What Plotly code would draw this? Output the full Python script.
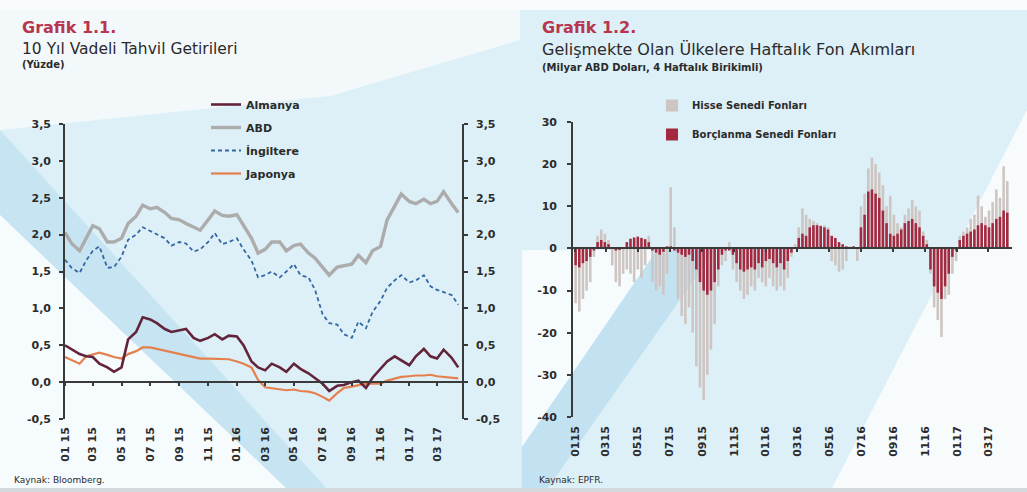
import plotly.graph_objects as go
import pandas as pd

W, H = 1027, 492

# ---------------- Grafik 1.1 data (semi-monthly, %) ----------------
bond_dates = pd.date_range("2015-01-01", periods=56, freq="SMS")
almanya = [0.50, 0.45, 0.38, 0.35, 0.34, 0.25, 0.20, 0.14, 0.20, 0.58,
           0.68, 0.88, 0.85, 0.80, 0.72, 0.68, 0.70, 0.72, 0.60, 0.56,
           0.60, 0.65, 0.58, 0.63, 0.62, 0.50, 0.28, 0.20, 0.16, 0.25,
           0.20, 0.14, 0.25, 0.18, 0.12, 0.05, -0.02, -0.12, -0.05, -0.04,
           0.00, 0.02, -0.08, 0.06, 0.18, 0.28, 0.35, 0.30, 0.23, 0.35,
           0.45, 0.35, 0.32, 0.44, 0.33, 0.20]
abd = [2.03, 1.88, 1.78, 1.95, 2.12, 2.08, 1.90, 1.90, 1.95, 2.15,
       2.25, 2.40, 2.35, 2.37, 2.30, 2.22, 2.20, 2.15, 2.10, 2.06,
       2.20, 2.32, 2.26, 2.25, 2.27, 2.12, 1.95, 1.75, 1.80, 1.90,
       1.90, 1.78, 1.85, 1.87, 1.75, 1.68, 1.55, 1.45, 1.56, 1.58,
       1.60, 1.72, 1.62, 1.78, 1.84, 2.20, 2.40, 2.55, 2.45, 2.42,
       2.48, 2.42, 2.45, 2.58, 2.42, 2.30]
ingiltere = [1.66, 1.55, 1.48, 1.65, 1.78, 1.84, 1.55, 1.56, 1.70, 1.93,
             2.00, 2.10, 2.05, 2.00, 1.95, 1.85, 1.90, 1.88, 1.77, 1.80,
             1.90, 2.02, 1.87, 1.90, 1.95, 1.80, 1.65, 1.42, 1.45, 1.50,
             1.42, 1.50, 1.60, 1.45, 1.42, 1.25, 0.92, 0.80, 0.78, 0.65,
             0.60, 0.82, 0.73, 0.95, 1.10, 1.28, 1.38, 1.45, 1.35, 1.38,
             1.45, 1.30, 1.25, 1.22, 1.18, 1.05]
japonya = [0.34, 0.30, 0.25, 0.35, 0.37, 0.40, 0.37, 0.34, 0.32, 0.38,
           0.42, 0.47, 0.47, 0.45, 0.43, 0.41, 0.38, 0.36, 0.34, 0.32,
           0.32, 0.32, 0.32, 0.31, 0.28, 0.25, 0.20, 0.03, -0.07, -0.08,
           -0.10, -0.11, -0.10, -0.12, -0.13, -0.15, -0.20, -0.25, -0.15, -0.08,
           -0.06, -0.04, -0.02, -0.02, -0.02, 0.02, 0.05, 0.07, 0.08, 0.09,
           0.09, 0.10, 0.08, 0.07, 0.06, 0.05]

# ---------------- Grafik 1.2 data (weekly, bn USD, 4-week cumulative) ----------------
flow_dates = pd.date_range("2015-01-02", periods=119, freq="7D")
hisse = [-13, -15, -12, -10, -8, -2, 3, 4.5, 3.5, 2,
         -4, -8, -9, -6, -5, -6, -8, -5, -7, -4,
         3, -8, -10, -9, -11, -6, 14.5, 5, -12, -16,
         -18, -14, -20, -28, -33, -36, -30, -24, -18, -9,
         -4, -3, 1.5, -5, -8, -10, -12, -11, -9, -10,
         -7, -8, -9, -7, -9, -10, -9, -10, -7, -2,
         1, 5, 9.5, 8, 7, 6.5, 6, 5.5, 5.5, 5,
         -3, -4, -5.5, -5, -3, 0.5, 0.5, -3, 10, 13,
         19, 21.5, 20, 18, 15, 10, 12.5, 8, 6, 5,
         8, 9.5, 11.5, 10, 9, 4, 2, -6, -14, -17,
         -21, -12, -11, -6, -3, 3, 4, 5, 7, 8,
         12.5, 10, 7.5, 9, 11, 14, 12, 19.5, 16]
borc = [-4, -4.5, -3.5, -3, -2, -0.5, 1.5, 2, 1.5, 1,
        0.3, -0.5, -0.3, 0.3, 1.5, 2.3, 2.6, 2.8, 2.5, 2.2,
        1.5, -0.5, -1, -1.5, -0.8, 0.5, 0.5, -0.5, -1, -1.5,
        -2, -1.5, -3, -5, -8, -10, -11, -10, -8, -5,
        -1.5, -0.5, -0.5, -1.5, -3.5, -5, -5.5, -5, -4.5, -5,
        -3.5, -4.5, -3, -2.5, -3.5, -4.5, -3.5, -5, -3, -1,
        0.3, 2.5, 3.5, 3, 5, 5.5, 5.5, 5.3, 5, 4.5,
        3, 2.5, 1.5, 1, 0.5, 0.3, 0.5, 0.3, 5, 8,
        13.5, 14, 13, 12, 9, 6, 3.5, 3, 3.5, 4.5,
        6, 6.5, 7, 6, 5, 3, 1, -5, -9, -10.5,
        -12, -9, -6, -2, -0.5, 2, 3, 3.5, 4, 4.5,
        5.5, 6, 5.5, 5, 6, 7, 7.5, 9, 8.5]

# ---------------- ticks ----------------
tick_dates = pd.date_range("2015-01-01", periods=14, freq="2MS")
left_xlabels = ["01 15", "03 15", "05 15", "07 15", "09 15", "11 15", "01 16",
                "03 16", "05 16", "07 16", "09 16", "11 16", "01 17", "03 17"]
right_xlabels = ["0115", "0315", "0515", "0715", "0915", "1115", "0116",
                 "0316", "0516", "0716", "0916", "1116", "0117", "0317"]
left_yticks = [-0.5, 0.0, 0.5, 1.0, 1.5, 2.0, 2.5, 3.0, 3.5]
left_ylabels = ["-0,5", "0,0", "0,5", "1,0", "1,5", "2,0", "2,5", "3,0", "3,5"]
right_yticks = [-40, -30, -20, -10, 0, 10, 20, 30]
right_ylabels = ["-40", "-30", "-20", "-10", "0", "10", "20", "30"]

# ---------------- helpers ----------------
def px(x):
    return x / W

def py(y):
    return 1 - y / H

def poly(points):
    return "M " + " L ".join(f"{px(x):.4f},{py(y):.4f}" for x, y in points) + " Z"

FONT = "DejaVu Sans"
AX = "#3a3a3a"
TXT = "#2b2b2b"

L_DOM_X = [px(65), px(462)]
L_DOM_Y = [py(419), py(124)]
R_DOM_X = [px(573), px(1012)]
R_DOM_Y = [py(417), py(122)]
L_RANGE = [-0.5, 3.5]
R_RANGE = [-40, 30]
L_XR = ["2015-01-01", "2017-04-23"]
R_XR = ["2014-12-28", "2017-04-16"]
zero_left = L_DOM_Y[0] + (0 - L_RANGE[0]) / (L_RANGE[1] - L_RANGE[0]) * (L_DOM_Y[1] - L_DOM_Y[0])
zero_right = R_DOM_Y[0] + (0 - R_RANGE[0]) / (R_RANGE[1] - R_RANGE[0]) * (R_DOM_Y[1] - R_DOM_Y[0])

fig = go.Figure()

# invisible helper traces so that the overlay axes (right scale, zero-line axes) are drawn
fig.add_trace(go.Scatter(x=bond_dates, y=abd, xaxis="x3", yaxis="y2", mode="lines",
                         line=dict(width=0), opacity=0, showlegend=False, hoverinfo="skip"))
fig.add_trace(go.Scatter(x=flow_dates, y=borc, xaxis="x4", yaxis="y3", mode="lines",
                         line=dict(width=0), opacity=0, showlegend=False, hoverinfo="skip"))

line_specs = [
    ("ABD", abd, "#adacac", 3.4, "solid", 2),
    ("İngiltere", ingiltere, "#3567a3", 1.8, "4px,3px", 3),
    ("Japonya", japonya, "#e5804e", 2.2, "solid", 4),
    ("Almanya", almanya, "#62243a", 2.6, "solid", 1),
]
for name, vals, col, wd, dash, rank in line_specs:
    fig.add_trace(go.Scatter(
        x=bond_dates, y=vals, name=name, mode="lines",
        line=dict(color=col, width=wd, dash=dash),
        xaxis="x", yaxis="y", legend="legend", legendrank=rank,
        legendgroup=name))

fig.add_trace(go.Bar(x=flow_dates, y=hisse, name="Hisse Senedi Fonları",
                     marker=dict(color="#cdc5c2", line=dict(width=0)),
                     xaxis="x2", yaxis="y3", legend="legend2", legendgroup="h"))
fig.add_trace(go.Bar(x=flow_dates, y=borc, name="Borçlanma Senedi Fonları",
                     marker=dict(color="#a32840", line=dict(width=0)),
                     xaxis="x2", yaxis="y3", legend="legend2", legendgroup="b"))

tickfont = dict(family=FONT, size=11, color=TXT, weight="bold")
common = dict(automargin=False, showgrid=False, zeroline=False)

fig.update_layout(
    width=W, height=H, margin=dict(l=0, r=0, t=0, b=0, autoexpand=False),
    paper_bgcolor="#ddf0f7", plot_bgcolor="rgba(0,0,0,0)",
    barmode="overlay", bargap=0.3,
    font=dict(family=FONT, color=TXT),
    xaxis=dict(domain=L_DOM_X, anchor="y", type="date", range=L_XR,
               tickmode="array", tickvals=tick_dates, ticktext=left_xlabels,
               tickangle=-90, ticks="", showline=False,
               tickfont=tickfont, ticklabelstandoff=5, **common),
    xaxis3=dict(overlaying="x", anchor="free", position=zero_left, type="date",
                range=L_XR, tickmode="array", tickvals=tick_dates,
                showticklabels=False, ticks="outside", ticklen=3, tickcolor=AX,
                tickwidth=1.5, showline=True, linecolor=AX, linewidth=1.6, **common),
    yaxis=dict(domain=L_DOM_Y, anchor="x", range=L_RANGE,
               tickmode="array", tickvals=left_yticks, ticktext=left_ylabels,
               showline=True, linecolor=AX, linewidth=1.6, ticks="outside",
               ticklen=4, tickcolor=AX, tickwidth=1.5,
               tickfont=tickfont, ticklabelstandoff=6, **common),
    yaxis2=dict(overlaying="y", anchor="x", side="right", range=L_RANGE,
                tickmode="array", tickvals=left_yticks, ticktext=left_ylabels,
                showline=True, linecolor=AX, linewidth=1.6, ticks="outside",
                ticklen=4, tickcolor=AX, tickwidth=1.5,
                tickfont=tickfont, ticklabelstandoff=6, **common),
    xaxis2=dict(domain=R_DOM_X, anchor="y3", type="date", range=R_XR,
                tickmode="array", tickvals=tick_dates, ticktext=right_xlabels,
                tickangle=-90, ticks="", showline=False,
                tickfont=tickfont, ticklabelstandoff=6, **common),
    xaxis4=dict(overlaying="x2", anchor="free", position=zero_right, type="date",
                range=R_XR, tickmode="array", tickvals=tick_dates,
                showticklabels=False, ticks="outside", ticklen=3, tickcolor=AX,
                tickwidth=1.5, showline=True, linecolor=AX, linewidth=1.6, **common),
    yaxis3=dict(domain=R_DOM_Y, anchor="x2", range=R_RANGE,
                tickmode="array", tickvals=right_yticks, ticktext=right_ylabels,
                showline=True, linecolor=AX, linewidth=1.6, ticks="outside",
                ticklen=4, tickcolor=AX, tickwidth=1.5,
                tickfont=tickfont, ticklabelstandoff=8, **common),
    legend=dict(x=px(206), y=py(90), xanchor="left", yanchor="top",
                bgcolor="rgba(0,0,0,0)", tracegroupgap=4,
                font=dict(family=FONT, size=11, color=TXT, weight="bold")),
    legend2=dict(x=px(652), y=py(91), xanchor="left", yanchor="top",
                 bgcolor="rgba(0,0,0,0)", tracegroupgap=10,
                 font=dict(family=FONT, size=10, color=TXT, weight="bold")),
    showlegend=True,
)

# ---------------- background (scan-like diagonal bands) ----------------
shapes = [
    dict(path=poly([(0, 0), (1027, 0), (1027, 10), (0, 10)]), fillcolor="#f7fbfc"),
    dict(path=poly([(0, 10), (520, 10), (520, 40), (330, 96), (0, 130)]), fillcolor="#f3f9fb"),
    dict(path=poly([(0, 130), (330, 492), (290, 492), (0, 215)]), fillcolor="#c6e4f2"),
    dict(path=poly([(0, 215), (290, 492), (0, 492)]), fillcolor="#f6fbfd"),
    dict(path=poly([(522, 250), (657, 250), (527, 440), (522, 447)]), fillcolor="#f6fbfd"),
    dict(path=poly([(657, 250), (715, 250), (545, 492), (522, 492), (522, 447)]), fillcolor="#c3e2f1"),
    dict(path=poly([(830, 492), (1027, 110), (1027, 492)]), fillcolor="#f7fbfc"),
    dict(path=poly([(0, 488), (1027, 488), (1027, 492), (0, 492)]), fillcolor="#d3d9dc"),
]
for s in shapes:
    s.update(type="path", xref="paper", yref="paper", layer="below",
             line=dict(width=0))
fig.update_layout(shapes=shapes)

# ---------------- titles ----------------
RED = "#b7354f"
ann = [
    ("Grafik 1.1.", 20, 28, 16, RED, "bold"),
    ("10 Yıl Vadeli Tahvil Getirileri", 20, 49, 15.5, TXT, "normal"),
    ("(Yüzde)", 20, 64, 10, TXT, "bold"),
    ("Grafik 1.2.", 540, 27, 16, RED, "bold"),
    ("Gelişmekte Olan Ülkelere Haftalık Fon Akımları", 540, 50, 16, TXT, "normal"),
    ("(Milyar ABD Doları, 4 Haftalık Birikimli)", 540, 67, 10, TXT, "bold"),
    ("Kaynak: Bloomberg.", 12, 480, 9, TXT, "normal"),
    ("Kaynak: EPFR.", 537, 480, 9, TXT, "normal"),
]
for text, x, y, size, col, wt in ann:
    fig.add_annotation(text=text, x=px(x), y=py(y), xref="paper", yref="paper",
                       xanchor="left", yanchor="middle", showarrow=False,
                       font=dict(family=FONT, size=size, color=col, weight=wt))

# remove the browser's default page margin so the figure sits at the window origin
fig.write_html("out.html", config={"displayModeBar": False},
               post_script="document.body.style.margin='0px';document.body.style.overflow='hidden';")
